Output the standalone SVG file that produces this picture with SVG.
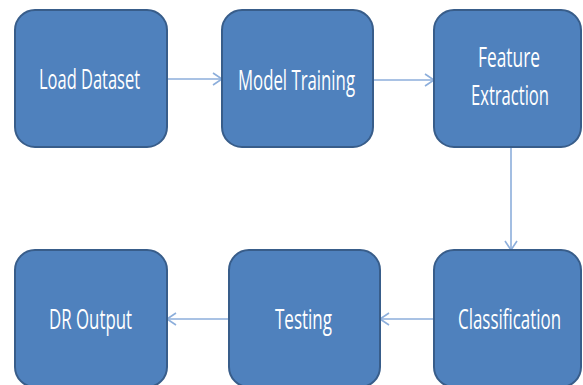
<svg xmlns="http://www.w3.org/2000/svg" width="583" height="385" viewBox="0 0 583 385">
<style>
.box{fill:#4F81BD;stroke:#385D8A;stroke-width:2}
.lbl{fill:#ffffff;font-family:"Open Sans","Liberation Sans",sans-serif;font-size:28px;text-anchor:middle}
.con{stroke:#8CAEDB;stroke-width:1.6;fill:none}
</style>
<defs>
<marker id="arr" markerWidth="12" markerHeight="14" refX="10" refY="7" orient="auto" markerUnits="userSpaceOnUse">
<path d="M1,1 L10,7 L1,13" fill="none" stroke="#8CAEDB" stroke-width="1.6"/>
</marker>
</defs>
<g id="connectors">
<line class="con" x1="167" y1="79" x2="222" y2="79" marker-end="url(#arr)"/>
<line class="con" x1="373" y1="80" x2="434" y2="80" marker-end="url(#arr)"/>
<line class="con" x1="511" y1="147" x2="511" y2="250" marker-end="url(#arr)"/>
<line class="con" x1="434" y1="319" x2="380" y2="319" marker-end="url(#arr)"/>
<line class="con" x1="229" y1="319" x2="167" y2="319" marker-end="url(#arr)"/>
</g>
<g id="load-dataset">
<rect class="box" x="15" y="10" width="152" height="137" rx="20"/>
<text class="lbl" x="89.5" y="89" textLength="101" lengthAdjust="spacingAndGlyphs">Load Dataset</text>
</g>
<g id="model-training">
<rect class="box" x="222" y="10" width="151" height="137" rx="20"/>
<text class="lbl" x="296.5" y="90" textLength="117" lengthAdjust="spacingAndGlyphs">Model Training</text>
</g>
<g id="feature-extraction">
<rect class="box" x="434" y="10" width="147" height="137" rx="20"/>
<text class="lbl" x="509" y="67" textLength="62" lengthAdjust="spacingAndGlyphs">Feature</text>
<text class="lbl" x="510" y="105" textLength="78" lengthAdjust="spacingAndGlyphs">Extraction</text>
</g>
<g id="classification">
<rect class="box" x="434" y="250" width="147" height="137" rx="20"/>
<text class="lbl" x="509.5" y="329" textLength="103" lengthAdjust="spacingAndGlyphs">Classification</text>
</g>
<g id="testing">
<rect class="box" x="229" y="250" width="151" height="137" rx="20"/>
<text class="lbl" x="303.5" y="329" textLength="57" lengthAdjust="spacingAndGlyphs">Testing</text>
</g>
<g id="dr-output">
<rect class="box" x="15" y="250" width="152" height="137" rx="20"/>
<text class="lbl" x="90.5" y="329" textLength="83" lengthAdjust="spacingAndGlyphs">DR Output</text>
</g>
</svg>
